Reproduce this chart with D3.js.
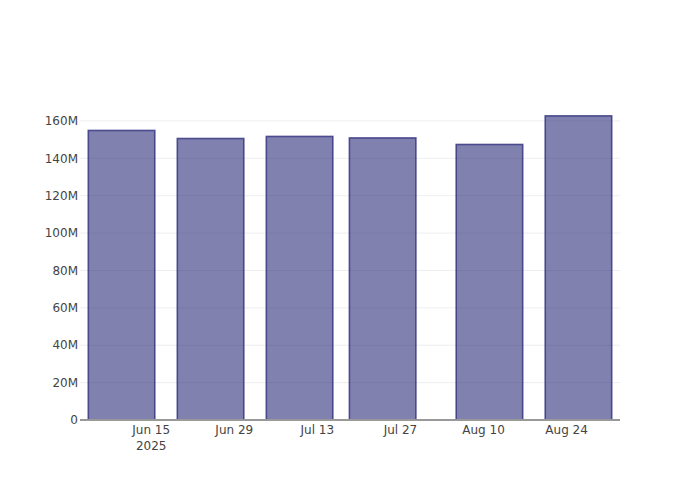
<!DOCTYPE html>
<html lang="en">
<head>
  <meta charset="UTF-8">
  <script src="https://d3js.org/d3.v7.min.js"></script>
  <style>
  body {
    margin:0;
    background-color:#fff;
  }
  text {
    font-family: "DejaVu Sans", sans-serif;
    font-size: 12px;
    fill: #444;
  }
  .grid line {
    stroke: #eee;
    stroke-width: 1px;
  }
  .bar {
    fill: rgba(25,25,112,0.55);
    stroke: rgba(55,55,130,0.85);
    stroke-width: 1.6px;
  }
  </style>
</head>
<body>
  <svg id="chart" width="700" height="500"></svg>

  <script>
  // data
  const dates = ["2025-06-10", "2025-06-25", "2025-07-10", "2025-07-24", "2025-08-11", "2025-08-26"];
  const values = [154.9e6, 150.6e6, 151.7e6, 150.9e6, 147.4e6, 162.7e6];
  const xTicks = ["2025-06-15", "2025-06-29", "2025-07-13", "2025-07-27", "2025-08-10", "2025-08-24"];
  const yTicks = [0, 20e6, 40e6, 60e6, 80e6, 100e6, 120e6, 140e6, 160e6];

  let svg = d3.select("#chart");
  let width = +svg.attr("width");
  let height = +svg.attr("height");
  let margin = { top: 100, right: 80, bottom: 80, left: 80 };
  let plotW = width - margin.left - margin.right;
  let plotH = height - margin.top - margin.bottom;

  let parse = d3.utcParse("%Y-%m-%d");
  let barDates = dates.map(parse);
  let tickDates = xTicks.map(parse);

  let x = d3.scaleUtc()
    .domain([d3.utcDay.offset(barDates[0], -7), d3.utcDay.offset(barDates[barDates.length - 1], 7)])
    .range([0, plotW]);
  let y = d3.scaleLinear()
    .domain([0, 171.2e6])
    .range([plotH, 0]);

  let g = svg.append("g")
    .attr("transform", "translate(" + margin.left + "," + margin.top + ")");

  // gridlines
  g.append("g").attr("class", "grid")
    .selectAll("line").data(yTicks.slice(1)).enter()
    .append("line")
    .attr("x1", 0).attr("x2", plotW)
    .attr("y1", d => y(d)).attr("y2", d => y(d));

  // bars: width is 0.8 of the smallest gap (14 days)
  let barW = x(d3.utcDay.offset(barDates[0], 14)) - x(barDates[0]);
  barW = barW * 0.8;

  g.selectAll(".bar").data(values).enter()
    .append("rect")
    .attr("class", "bar")
    .attr("x", (d, i) => x(barDates[i]) - barW / 2)
    .attr("width", barW)
    .attr("y", d => y(d))
    .attr("height", d => y(0) - y(d));

  // x axis line
  g.append("line")
    .attr("x1", 0).attr("x2", plotW)
    .attr("y1", plotH).attr("y2", plotH)
    .style("stroke", "#999")
    .style("stroke-width", 2);

  // y tick labels
  let fmtY = d => d === 0 ? "0" : (d / 1e6) + "M";
  g.selectAll(".ylab").data(yTicks).enter()
    .append("text")
    .attr("class", "ylab")
    .attr("x", -2)
    .attr("y", d => y(d))
    .attr("dy", "0.35em")
    .attr("text-anchor", "end")
    .text(fmtY);

  // x tick labels
  let fmtX = d3.utcFormat("%b %-d");
  let xl = g.selectAll(".xlab").data(tickDates).enter()
    .append("text")
    .attr("class", "xlab")
    .attr("x", d => x(d))
    .attr("y", plotH + 10)
    .attr("text-anchor", "middle");
  xl.append("tspan")
    .attr("x", d => x(d))
    .attr("dy", "0.35em")
    .text(fmtX);
  xl.filter((d, i) => i === 0)
    .append("tspan")
    .attr("x", d => x(d))
    .attr("dy", "1.3em")
    .text(d => d3.utcFormat("%Y")(d));
  </script>
</body>
</html>
